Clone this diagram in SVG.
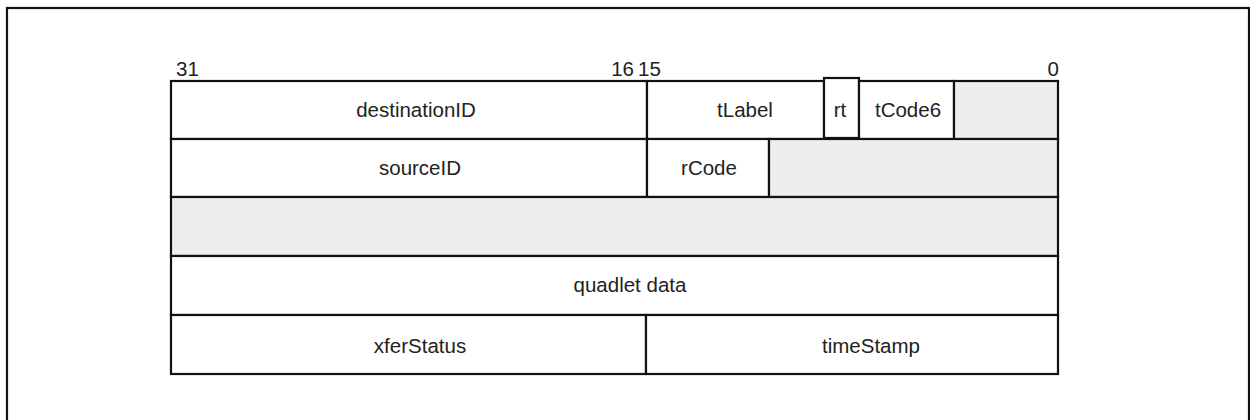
<svg xmlns="http://www.w3.org/2000/svg" width="1250" height="420" viewBox="0 0 1250 420">
<style>
.c{stroke:#111;stroke-width:2.2;fill:#fff}
.g{stroke:#111;stroke-width:2.2;fill:#eeeeee}
text{font-family:"Liberation Sans",Arial,sans-serif;font-size:20.5px;fill:#222}
.m{text-anchor:middle}
</style>
<rect x="7" y="8" width="1242" height="430" fill="#fff" stroke="#111" stroke-width="2.2"/>
<g id="bits">
<text x="176" y="76">31</text>
<text x="634" y="76" text-anchor="end">16</text>
<text x="638" y="76">15</text>
<text x="1059" y="76" text-anchor="end">0</text>
</g>
<g id="destinationID"><rect class="c" x="171" y="81" width="476" height="58"/><text class="m" x="416" y="117">destinationID</text></g>
<g id="tLabel"><rect class="c" x="647" y="81" width="177" height="58"/><text class="m" x="745" y="117">tLabel</text></g>
<g id="rt"><rect class="c" x="824" y="78" width="35" height="60"/><text class="m" x="840" y="117">rt</text></g>
<g id="tCode6"><rect class="c" x="859" y="81" width="95" height="58"/><text class="m" x="908" y="117">tCode6</text></g>
<g id="reserved1"><rect class="g" x="954" y="81" width="104" height="58"/></g>
<g id="sourceID"><rect class="c" x="171" y="139" width="476" height="58"/><text class="m" x="420" y="175">sourceID</text></g>
<g id="rCode"><rect class="c" x="647" y="139" width="122" height="58"/><text class="m" x="709" y="175">rCode</text></g>
<g id="reserved2"><rect class="g" x="769" y="139" width="289" height="58"/></g>
<g id="reserved3"><rect class="g" x="171" y="197" width="887" height="59"/></g>
<g id="quadletData"><rect class="c" x="171" y="256" width="887" height="59"/><text class="m" x="630" y="292">quadlet data</text></g>
<g id="xferStatus"><rect class="c" x="171" y="315" width="475" height="59"/><text class="m" x="420" y="353">xferStatus</text></g>
<g id="timeStamp"><rect class="c" x="646" y="315" width="412" height="59"/><text class="m" x="871" y="353">timeStamp</text></g>
<g id="connectors"></g>
</svg>
